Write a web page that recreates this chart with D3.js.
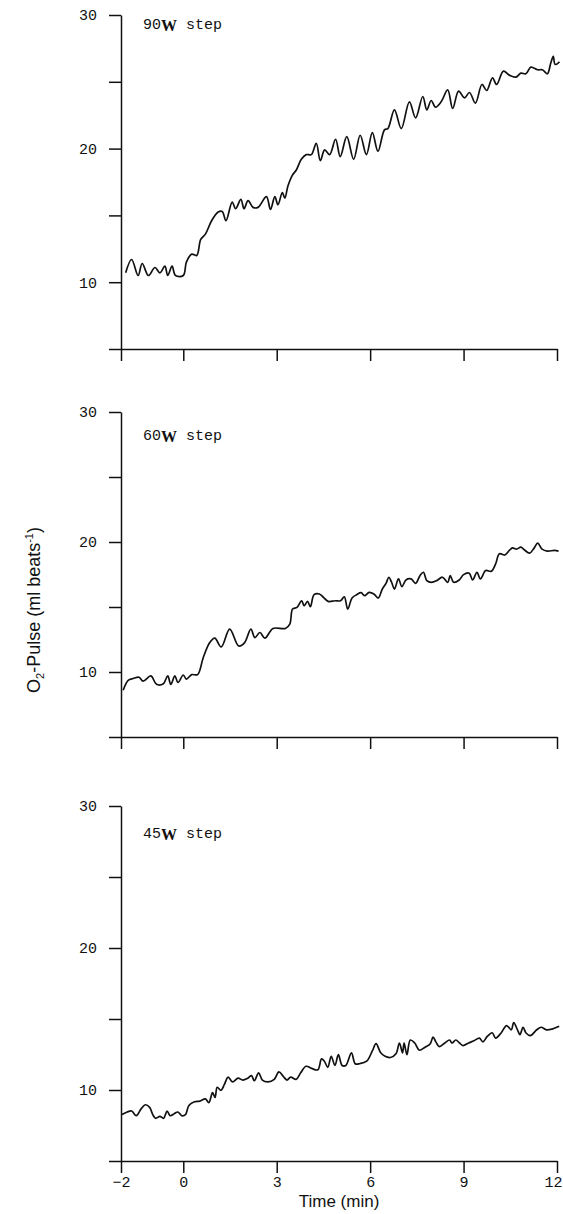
<!DOCTYPE html>
<html>
<head>
<meta charset="utf-8">
<script src="https://cdn.jsdelivr.net/npm/d3@7"></script>
<style>
  html, body { margin: 0; padding: 0; background: #fff; }
  svg { display: block; }
  .tick text { font-family: "Liberation Mono", monospace; font-size: 15px; fill: #111; }
  .domain, .tick line { stroke: #111; stroke-width: 1.5; }
</style>
</head>
<body>
<svg id="chart" width="563" height="1214"></svg>
<script>
// ── Data ──────────────────────────────────────────────────────────────────────

const xTicks = [-2, 0, 3, 6, 9, 12];
const xTickLabels = ['\u22122', '0', '3', '6', '9', '12'];
const yTicks = [5, 10, 15, 20, 25, 30];
const yTickLabels = ['', '10', '', '20', '', '30'];
const stepPower = ['90', '60', '45'];

// 90 W step
const time90 = [-1.85, -1.66, -1.45, -1.32, -1.12, -0.91, -0.75, -0.59, -0.50, -0.36, -0.25, 0.00,
  0.10, 0.27, 0.43, 0.56, 0.71, 0.91, 1.12, 1.25, 1.37, 1.57, 1.68, 1.85, 1.95, 2.08, 2.24, 2.40,
  2.67, 2.80, 2.94, 3.04, 3.18, 3.26, 3.36, 3.50, 3.63, 3.79, 3.95, 4.11, 4.27, 4.40, 4.54, 4.70,
  4.89, 5.04, 5.25, 5.47, 5.68, 5.88, 6.07, 6.25, 6.46, 6.57, 6.78, 7.00, 7.26, 7.46, 7.69, 7.82,
  7.96, 8.10, 8.28, 8.49, 8.65, 8.84, 9.03, 9.19, 9.38, 9.59, 9.74, 9.93, 10.06, 10.28, 10.47,
  10.68, 10.84, 11.00, 11.16, 11.38, 11.53, 11.69, 11.80, 11.88, 11.94, 12.08];
const pulse90 = [10.7, 11.7, 10.5, 11.4, 10.5, 11.1, 10.7, 11.2, 10.5, 11.2, 10.5, 10.5,
  11.5, 12.1, 12.0, 13.2, 13.6, 14.6, 15.25, 15.3, 14.6, 16.0, 15.5, 16.2, 15.5, 16.1, 15.6, 15.6,
  16.4, 15.45, 16.4, 15.8, 16.7, 16.3, 17.2, 18.0, 18.4, 19.2, 19.55, 19.55, 20.4, 19.1, 19.9, 19.55,
  20.7, 19.4, 20.9, 19.2, 21.0, 19.55, 21.2, 19.8, 21.4, 21.5, 22.9, 21.5, 23.5, 22.3, 23.9, 22.9,
  23.6, 23.1, 23.5, 24.4, 23.0, 24.3, 23.8, 24.2, 23.4, 24.8, 24.35, 25.3, 24.8, 25.8, 25.5,
  25.35, 25.65, 25.6, 26.1, 25.9, 25.9, 25.6, 26.4, 26.9, 26.3, 26.5];

// 60 W step
const time60 = [-1.93, -1.77, -1.61, -1.42, -1.29, -1.04, -0.86, -0.64, -0.50, -0.40, -0.27, -0.17,
  0.00, 0.10, 0.27, 0.46, 0.64, 0.85, 1.01, 1.22, 1.49, 1.78, 1.97, 2.17, 2.30, 2.46, 2.62, 2.88,
  3.28, 3.42, 3.51, 3.65, 3.80, 3.88, 3.99, 4.08, 4.20, 4.37, 4.48, 4.65, 4.88, 5.05, 5.17, 5.28,
  5.42, 5.57, 5.71, 5.82, 5.97, 6.12, 6.26, 6.39, 6.51, 6.60, 6.69, 6.78, 6.91, 7.02, 7.15, 7.31,
  7.46, 7.60, 7.71, 7.82, 7.97, 8.14, 8.32, 8.49, 8.57, 8.68, 8.86, 9.00, 9.18, 9.29, 9.43, 9.54,
  9.71, 9.89, 10.03, 10.15, 10.32, 10.47, 10.57, 10.70, 10.84, 10.95, 11.12, 11.27, 11.38, 11.52,
  11.69, 11.92, 12.05];
const pulse60 = [8.6, 9.36, 9.5, 9.6, 9.3, 9.7, 9.05, 9.1, 9.7, 9.05, 9.7, 9.2,
  9.77, 9.45, 9.8, 9.8, 11.1, 12.26, 12.6, 11.93, 13.3, 12.0, 12.26, 13.3, 12.65, 13.04, 12.6, 13.35,
  13.35, 13.68, 14.84, 14.97, 15.48, 15.1, 15.43, 15.02, 15.95, 16.0, 15.79, 15.43, 15.48, 15.48, 15.79, 14.84,
  15.69, 15.95, 16.1, 15.87, 16.13, 16.0, 15.69, 16.38, 16.82, 17.29, 16.9, 16.38, 17.16, 16.57, 17.08, 17.16,
  16.82, 17.41, 17.67, 17.03, 16.9, 17.03, 17.29, 16.9, 17.41, 16.9, 17.08, 17.49, 17.6, 17.08, 17.67, 17.16,
  17.8, 17.75, 18.32, 19.09, 19.0, 19.35, 19.55, 19.45, 19.6, 19.4, 19.14, 19.55, 19.91, 19.45,
  19.3, 19.35, 19.3];

// 45 W step
const time45 = [-1.97, -1.80, -1.66, -1.51, -1.36, -1.22, -1.08, -0.98, -0.89, -0.75, -0.63, -0.52,
  -0.42, -0.28, -0.17, -0.05, 0.07, 0.18, 0.36, 0.53, 0.71, 0.82, 0.94, 1.02, 1.09, 1.21, 1.32,
  1.44, 1.58, 1.76, 1.91, 2.07, 2.19, 2.28, 2.42, 2.54, 2.72, 2.92, 3.07, 3.21, 3.33, 3.45, 3.62,
  3.77, 3.94, 4.12, 4.32, 4.44, 4.53, 4.64, 4.75, 4.87, 4.98, 5.10, 5.22, 5.40, 5.52, 5.66, 5.89,
  6.07, 6.19, 6.34, 6.48, 6.65, 6.83, 6.94, 7.04, 7.09, 7.18, 7.29, 7.43, 7.58, 7.76, 7.93, 8.02,
  8.11, 8.22, 8.40, 8.55, 8.63, 8.75, 8.87, 8.98, 9.16, 9.33, 9.51, 9.62, 9.76, 9.92, 10.03, 10.21,
  10.38, 10.53, 10.61, 10.73, 10.81, 10.91, 11.00, 11.14, 11.35, 11.49, 11.66, 11.84, 12.07];
const pulse45 = [8.27, 8.45, 8.52, 8.19, 8.65, 8.96, 8.78, 8.27, 8.01, 8.14, 8.01, 8.52,
  8.19, 8.35, 8.45, 8.19, 8.27, 8.91, 9.17, 9.22, 9.37, 9.11, 9.81, 9.47, 10.19, 9.98, 10.39,
  10.91, 10.57, 10.83, 10.7, 10.83, 11.01, 10.65, 11.21, 10.7, 10.57, 10.75, 11.27, 10.96, 10.7, 10.91, 10.75,
  11.21, 11.67, 11.52, 11.42, 12.19, 12.03, 11.6, 12.37, 11.73, 12.49, 11.73, 11.73, 12.62, 11.85, 11.85, 12.03,
  12.75, 13.26, 12.62, 12.37, 12.29, 12.55, 13.31, 12.62, 13.31, 12.49, 13.52, 13.31, 12.8, 13.01, 13.26, 13.72,
  13.39, 13.06, 13.31, 13.52, 13.31, 13.52, 13.31, 13.13, 13.31, 13.47, 13.65, 13.39, 13.77, 14.03, 13.65, 14.03,
  14.54, 14.24, 14.75, 14.24, 13.9, 14.42, 14.03, 13.83, 14.24, 14.42, 14.24, 14.29, 14.49];

// ── Layout ────────────────────────────────────────────────────────────────────

const panels = [
  { time: time90, pulse: pulse90, label: stepPower[0], top: 15,  bottom: 349,  labelY: 29 },
  { time: time60, pulse: pulse60, label: stepPower[1], top: 412, bottom: 737,  labelY: 440 },
  { time: time45, pulse: pulse45, label: stepPower[2], top: 806, bottom: 1161, labelY: 838 },
];

const svg = d3.select('#chart');
const x = d3.scaleLinear().domain([-2, 12]).range([121, 557]);

panels.forEach((p, i) => {
  const y = d3.scaleLinear().domain([5, 30]).range([p.bottom, p.top]);
  const g = svg.append('g');

  g.append('g')
    .attr('transform', `translate(${x(-2)},0)`)
    .call(d3.axisLeft(y).tickValues(yTicks).tickSize(12).tickSizeOuter(0).tickPadding(12)
      .tickFormat((d, k) => yTickLabels[k]));

  const isLast = i === panels.length - 1;
  const xAxis = g.append('g')
    .attr('transform', `translate(0,${p.bottom})`)
    .call(d3.axisBottom(x).tickValues(xTicks).tickSize(12).tickSizeOuter(0).tickPadding(3)
      .tickFormat((d, k) => isLast ? xTickLabels[k] : ''));
  // keep the last label inside the page edge
  xAxis.selectAll('.tick text').filter(d => d === 12).attr('x', -4);

  const line = d3.line()
    .x(d => x(d[0]))
    .y(d => y(d[1]))
    .curve(d3.curveCatmullRom.alpha(0.5));

  g.append('path')
    .datum(d3.zip(p.time, p.pulse))
    .attr('fill', 'none')
    .attr('stroke', '#111')
    .attr('stroke-width', 1.7)
    .attr('stroke-linejoin', 'round')
    .attr('d', line);

  const t = g.append('text')
    .attr('x', 143)
    .attr('y', p.labelY)
    .attr('font-family', '"Liberation Mono", monospace')
    .attr('font-size', 15)
    .attr('fill', '#111');
  t.append('tspan').text(p.label);
  t.append('tspan').attr('font-weight', 'bold').attr('font-family', '"Liberation Serif", serif')
    .attr('font-size', 16).attr('dy', 2).text('W');
  t.append('tspan').attr('dy', -2).text(' step');
});

// ── Axis titles ───────────────────────────────────────────────────────────────

const yTitle = svg.append('text')
  .attr('transform', 'translate(40,610) rotate(-90)')
  .attr('text-anchor', 'middle')
  .attr('font-family', '"Liberation Sans", Arial, sans-serif')
  .attr('font-size', 18)
  .attr('fill', '#111');
yTitle.append('tspan').text('O');
yTitle.append('tspan').attr('font-size', 11).attr('dy', 4).text('2');
yTitle.append('tspan').attr('dy', -4).text('-Pulse (ml beats');
yTitle.append('tspan').attr('font-size', 11).attr('dy', -7).text('-1');
yTitle.append('tspan').attr('dy', 7).text(')');

svg.append('text')
  .attr('x', x(5))
  .attr('y', 1207)
  .attr('text-anchor', 'middle')
  .attr('font-family', '"Liberation Sans", Arial, sans-serif')
  .attr('font-size', 17)
  .attr('fill', '#111')
  .text('Time (min)');
</script>
</body>
</html>
